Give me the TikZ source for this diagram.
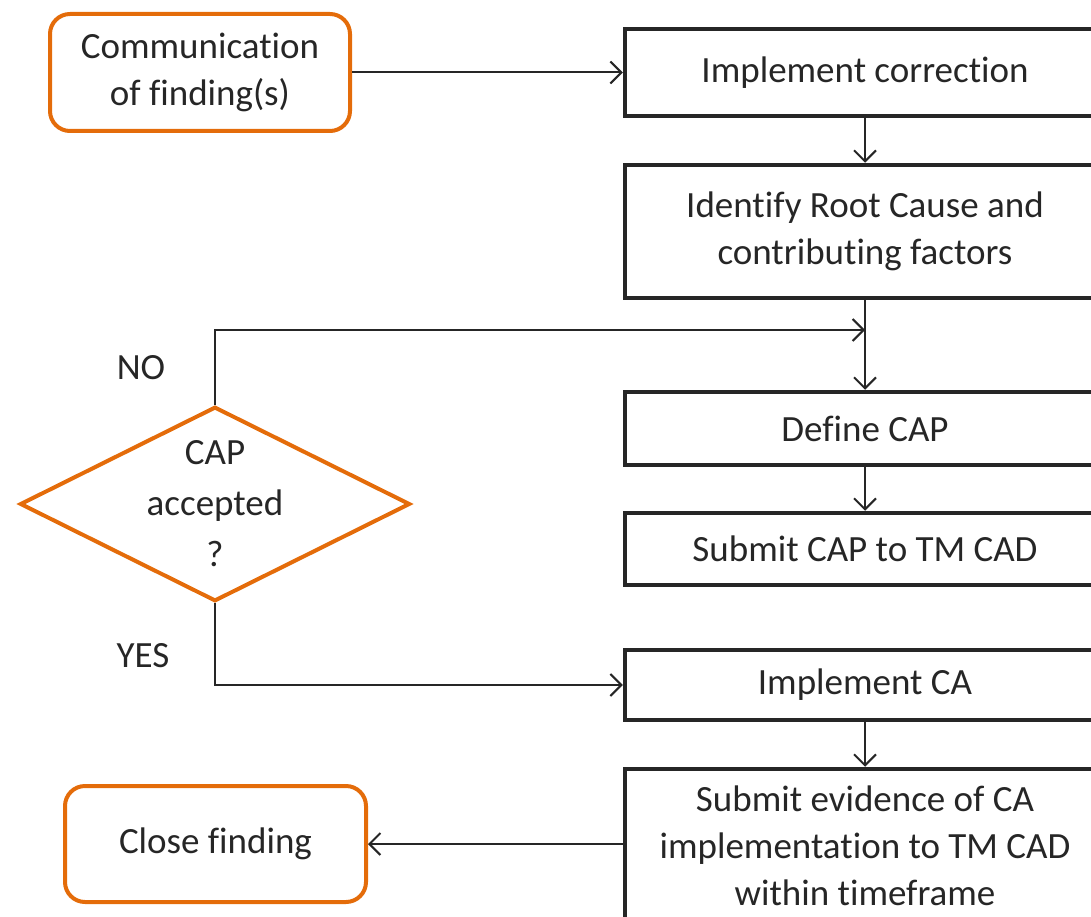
\documentclass[tikz,border=0pt]{standalone}
\usepackage{fontspec}
\setmainfont[Ligatures={NoCommon}]{Carlito}
\usetikzlibrary{arrows.meta,shapes.geometric}
\definecolor{org}{HTML}{E46C0A}
\definecolor{ink}{HTML}{262626}
\tikzset{
  txt/.style={font=\fontsize{37}{47}\selectfont, text=ink, align=center},
  termbox/.style={txt, draw=org, line width=4pt, rounded corners=20pt, inner sep=0pt},
  procbox/.style={txt, draw=ink, line width=4.5pt, inner sep=0pt, minimum width=480pt},
  decbox/.style={txt, font=\fontsize{37}{51}\selectfont, draw=org, line width=4pt, diamond, aspect=2, inner sep=0pt, minimum width=390pt, minimum height=194pt},
  conn/.style={draw=ink, line width=2pt, -{Straight Barb[length=11pt,width=22pt,line width=2pt]}},
  lbl/.style={txt}
}
\begin{document}
\begin{tikzpicture}[x=1pt,y=-1pt]
\useasboundingbox (0,0) rectangle (1091,917);
\clip (0,0) rectangle (1091,917);
\node[termbox, minimum width=300pt, minimum height=117pt] (comm) at (200,72.5) {Communication\\of finding(s)};
\node[termbox, minimum width=301pt, minimum height=116pt] (close) at (215.5,844) {Close finding};
\node[procbox, minimum height=87pt] (impl) at (865,72.5) {Implement correction};
\node[procbox, minimum height=133pt] (ident) at (865,231.5) {Identify Root Cause and\\contributing factors};
\node[procbox, minimum height=73pt] (def) at (865,428.5) {Define CAP};
\node[procbox, minimum height=72pt] (sub) at (865,549) {Submit CAP to TM CAD};
\node[procbox, minimum height=70pt] (ica) at (865,685) {Implement CA};
\node[procbox, minimum height=154pt] (evid) at (865,846) {Submit evidence of CA\\implementation to TM CAD\\within timeframe};
\node[decbox] (dec) at (215,504) {CAP\\accepted\\?};
\node[lbl] (no) at (141,368) {NO};
\node[lbl] (yes) at (143,656) {YES};
\coordinate (join) at (865,330);
\draw[conn] (comm.east) -- (impl.west);
\draw[conn] (impl.south) -- (ident.north);
\draw[conn] (ident.south) -- (def.north);
\draw[conn] (dec.north) |- (join);
\draw[conn] (def.south) -- (sub.north);
\draw[conn] (dec.south) |- (ica.west);
\draw[conn] (ica.south) -- (evid.north);
\draw[conn] (evid.west |- close.east) -- (close.east);
\end{tikzpicture}
\end{document}
